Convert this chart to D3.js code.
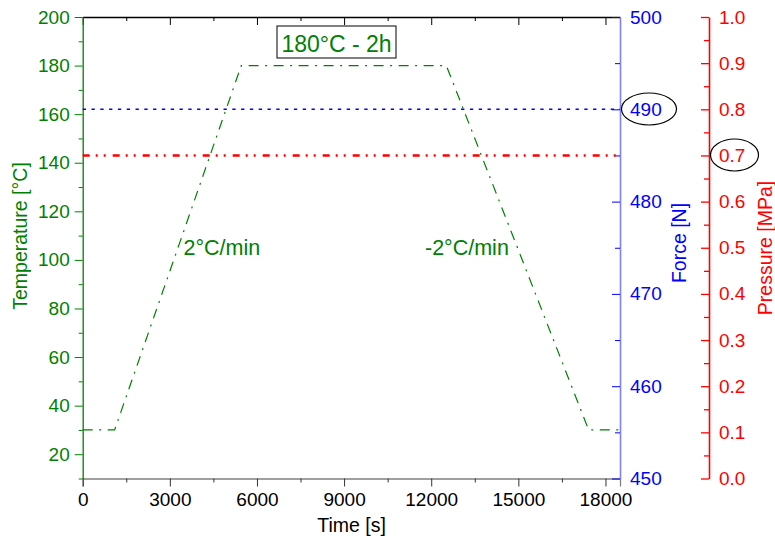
<!DOCTYPE html>
<html>
<head>
<meta charset="utf-8">
<script src="https://cdn.jsdelivr.net/npm/d3@7"></script>
<style>
  html, body { margin: 0; padding: 0; background: #fff; }
  svg { display: block; font-family: "Liberation Sans", Arial, sans-serif; }
</style>
</head>
<body>
<svg id="chart" width="775" height="539"></svg>
<script>
// ---- data ----
const timeS = [0, 1100, 5460, 12520, 17420, 18450];
const tempC = [30, 30, 180, 180, 30, 30];
const forceTime = [0, 18500];
const forceN = [490, 490];
const pressTime = [0, 18500];
const pressMPa = [0.7, 0.7];
const xTicks = [0, 3000, 6000, 9000, 12000, 15000, 18000];
const tempTicks = [20, 40, 60, 80, 100, 120, 140, 160, 180, 200];
const forceTicks = [450, 460, 470, 480, 490, 500];
const pressTicks = [0.0, 0.1, 0.2, 0.3, 0.4, 0.5, 0.6, 0.7, 0.8, 0.9, 1.0];
const annotations = { box: "180°C - 2h", up: "2°C/min", down: "-2°C/min" };

const GREEN = "#008000", BLUE = "#0000ff", RED = "#ff0000";
const FS = 19, TFS = 19.5;
const svg = d3.select("#chart");
const L = 82.7, R = 620, T = 17, B = 478.5;

const x = d3.scaleLinear().domain([0, 18500]).range([L, R]);
const yT = d3.scaleLinear().domain([10, 200]).range([B, T]);
const yF = d3.scaleLinear().domain([450, 500]).range([B, T]);
const yP = d3.scaleLinear().domain([0, 1]).range([B, T]);

function styleAxis(g, color, lineColor, fs) {
  g.select(".domain").attr("stroke", lineColor).attr("stroke-width", 1.3);
  g.selectAll(".tick line").attr("stroke", color);
  g.selectAll(".tick text").attr("fill", color).attr("font-size", fs).attr("font-family", "Liberation Sans, Arial, sans-serif");
}

function range(a, b, s) { const r = []; for (let v = a; v <= b + 1e-9; v += s) r.push(+v.toFixed(6)); return r; }

// bottom axis
const gx = svg.append("g").attr("transform", `translate(0,${B})`)
  .call(d3.axisBottom(x).tickValues(xTicks).tickFormat(d3.format("d")).tickSizeOuter(0).tickSize(8).tickPadding(6));
styleAxis(gx, "#000", "#808080", FS);
gx.selectAll(".tick line").attr("stroke", "#333");
svg.append("g").attr("transform", `translate(0,${B})`)
  .call(d3.axisBottom(x).tickValues(range(1500, 18000, 3000)).tickFormat("").tickSize(4).tickSizeOuter(0))
  .call(g => { g.select(".domain").remove(); g.selectAll("line").attr("stroke", "#333"); });

// top axis (inward ticks)
const gtop = svg.append("g").attr("transform", `translate(0,${T})`)
  .call(d3.axisBottom(x).tickValues(xTicks).tickFormat("").tickSize(8).tickSizeOuter(0));
gtop.select(".domain").attr("stroke", "#000").attr("stroke-width", 1.3);
gtop.selectAll("line").attr("stroke", "#000");
svg.append("g").attr("transform", `translate(0,${T})`)
  .call(d3.axisBottom(x).tickValues(range(1500, 18000, 3000)).tickFormat("").tickSize(4).tickSizeOuter(0))
  .call(g => { g.select(".domain").remove(); g.selectAll("line").attr("stroke", "#000"); });

// left axis (temperature)
const gl = svg.append("g").attr("transform", `translate(${L},0)`)
  .call(d3.axisLeft(yT).tickValues(tempTicks).tickSize(8).tickSizeOuter(0).tickPadding(5));
styleAxis(gl, GREEN, GREEN, FS);
svg.append("g").attr("transform", `translate(${L},0)`)
  .call(d3.axisLeft(yT).tickValues(range(10, 190, 20)).tickFormat("").tickSize(4).tickSizeOuter(0))
  .call(g => { g.select(".domain").remove(); g.selectAll("line").attr("stroke", GREEN); });

// right blue axis (force) - inward ticks, labels outside
const gb = svg.append("g").attr("transform", `translate(${R},0)`)
  .call(d3.axisLeft(yF).tickValues(forceTicks).tickSize(8).tickSizeOuter(0).tickFormat(d3.format("d")));
gb.select(".domain").attr("stroke", "#8080ff").attr("stroke-width", 1.6);
gb.selectAll(".tick line").attr("stroke", BLUE);
gb.selectAll(".tick text").attr("fill", BLUE).attr("font-size", FS)
  .attr("x", 10).attr("text-anchor", "start");
svg.append("g").attr("transform", `translate(${R},0)`)
  .call(d3.axisLeft(yF).tickValues(range(455, 495, 10)).tickFormat("").tickSize(5).tickSizeOuter(0))
  .call(g => { g.select(".domain").remove(); g.selectAll("line").attr("stroke", BLUE); });

// right red axis (pressure)
const RX = 709;
const gr = svg.append("g").attr("transform", `translate(${RX},0)`)
  .call(d3.axisLeft(yP).tickValues(pressTicks).tickSize(8).tickSizeOuter(0).tickFormat(d3.format(".1f")));
gr.select(".domain").attr("stroke", RED).attr("stroke-width", 1.6);
gr.selectAll(".tick line").attr("stroke", RED).attr("stroke-width", 1.3);
gr.selectAll(".tick text").attr("fill", RED).attr("font-size", FS)
  .attr("x", 10).attr("text-anchor", "start");
svg.append("g").attr("transform", `translate(${RX},0)`)
  .call(d3.axisLeft(yP).tickValues(range(0.05, 0.95, 0.1)).tickFormat("").tickSize(5).tickSizeOuter(0))
  .call(g => { g.select(".domain").remove(); g.selectAll("line").attr("stroke", RED).attr("stroke-width", 1.3); });

// lines
const tempLine = d3.line().x(d => x(d[0])).y(d => yT(d[1]));
svg.append("path").datum(timeS.map((t, i) => [t, tempC[i]]))
  .attr("d", tempLine).attr("fill", "none").attr("stroke", GREEN)
  .attr("stroke-width", 1.2).attr("stroke-dasharray", "10,6.5,2,6.5");

const forceLine = d3.line().x(d => x(d[0])).y(d => yF(d[1]));
svg.append("path").datum(forceTime.map((t, i) => [t, forceN[i]]))
  .attr("d", forceLine).attr("fill", "none").attr("stroke", BLUE)
  .attr("stroke-width", 1.4).attr("stroke-dasharray", "3.3,5.5");

const pressLine = d3.line().x(d => x(d[0])).y(d => yP(d[1]));
svg.append("path").datum(pressTime.map((t, i) => [t, pressMPa[i]]))
  .attr("d", pressLine).attr("fill", "none").attr("stroke", RED)
  .attr("stroke-width", 2.4).attr("stroke-dasharray", "7,6,2,6,2,7");

// axis titles
svg.append("text").attr("x", 351.5).attr("y", 532).attr("text-anchor", "middle")
  .attr("font-size", TFS).attr("fill", "#000").text("Time [s]");
svg.append("text").attr("transform", "translate(27,236) rotate(-90)").attr("text-anchor", "middle")
  .attr("font-size", TFS).attr("fill", GREEN).text("Temperature [°C]");
svg.append("text").attr("transform", "translate(686,243) rotate(-90)").attr("text-anchor", "middle")
  .attr("font-size", TFS).attr("fill", BLUE).text("Force [N]");
svg.append("text").attr("transform", "translate(772,248) rotate(-90)").attr("text-anchor", "middle")
  .attr("font-size", TFS).attr("fill", RED).text("Pressure [MPa]");

// annotations
svg.append("rect").attr("x", 277).attr("y", 26).attr("width", 119).attr("height", 32)
  .attr("fill", "#fff").attr("stroke", "#000").attr("stroke-width", 1);
svg.append("text").attr("x", 336.5).attr("y", 51.5).attr("text-anchor", "middle")
  .attr("font-size", 23).attr("fill", GREEN).text(annotations.box);
svg.append("text").attr("x", 183.5).attr("y", 254.5).attr("font-size", 21.5).attr("fill", GREEN).text(annotations.up);
svg.append("text").attr("x", 425).attr("y", 254.5).attr("font-size", 21.5).attr("fill", GREEN).text(annotations.down);

// ellipses
svg.append("ellipse").attr("cx", 649).attr("cy", 109).attr("rx", 27.5).attr("ry", 16)
  .attr("fill", "none").attr("stroke", "#000").attr("stroke-width", 1.2);
svg.append("ellipse").attr("cx", 734.5).attr("cy", 155).attr("rx", 24).attr("ry", 16)
  .attr("fill", "none").attr("stroke", "#000").attr("stroke-width", 1.2);
</script>
</body>
</html>
